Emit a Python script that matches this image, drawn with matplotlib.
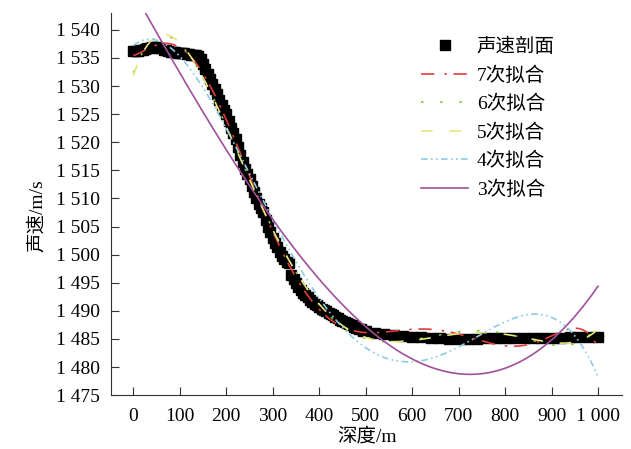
import numpy as np
from matplotlib import pyplot as plt
from numpy.polynomial import Polynomial

"""
Sound speed profile vs depth, with 3rd..7th order polynomial fits
"""

plt.rcParams['font.family'] = ['Liberation Serif', 'Noto Sans CJK SC']
plt.rcParams['axes.unicode_minus'] = False

depth = [0, 5, 10, 15, 20, 25, 30, 35, 40, 45, 50, 55, 60, 65, 70, 75, 80, 85, 90, 95,
         100, 105, 110, 115, 120, 125, 130, 135, 140, 145, 150, 155, 160, 165, 170, 175,
         180, 185, 190, 195, 200, 205, 210, 215, 220, 225, 230, 235, 240, 245, 250, 255,
         260, 265, 270, 275, 280, 285, 290, 295, 300, 305, 310, 315, 320, 325, 330, 335,
         340, 345, 350, 355, 360, 365, 370, 375, 380, 385, 390, 395, 400, 405, 410, 415,
         420, 425, 430, 435, 440, 445, 450, 455, 460, 465, 470, 475, 480, 485, 490, 495,
         500, 520, 540, 560, 580, 600, 620, 640, 660, 680, 700, 720, 740, 760, 780,
         800, 820, 840, 860, 880, 900, 920, 940, 960, 980, 1000]
speed = [1536.2, 1536.2, 1536.3, 1536.4, 1536.5, 1536.6, 1536.7, 1536.8, 1537.0, 1537.0,
         1536.9, 1536.8, 1536.7, 1536.5, 1536.4, 1536.2, 1536.1, 1536.0, 1536.0, 1535.9,
         1535.9, 1535.8, 1535.8, 1535.7, 1535.7, 1535.6, 1535.6, 1535.5, 1535.3, 1534.8,
         1534.0, 1533.1, 1532.2, 1531.2, 1530.3, 1529.4, 1528.6, 1527.5, 1526.6, 1525.8,
         1525.0, 1523.8, 1522.6, 1521.6, 1520.5, 1519.1, 1517.8, 1516.5, 1515.3, 1514.4,
         1513.4, 1512.3, 1511.2, 1510.1, 1509.0, 1508.3, 1507.5, 1506.2, 1505.0, 1504.0,
         1503.0, 1502.1, 1501.3, 1500.5, 1499.8, 1499.2, 1498.7, 1498.5, 1496.4, 1495.7,
         1495.0, 1494.3, 1493.7, 1493.2, 1492.8, 1492.4, 1492.0, 1491.6, 1491.3, 1491.0,
         1490.7, 1490.4, 1490.2, 1489.9, 1489.7, 1489.4, 1489.2, 1488.9, 1488.7, 1488.4,
         1488.2, 1488.0, 1487.8, 1487.6, 1487.4, 1487.2, 1487.0, 1486.8, 1486.7, 1486.5,
         1486.4, 1486.1, 1485.9, 1485.7, 1485.6, 1485.4, 1485.3, 1485.2, 1485.1, 1485.0,
         1485.0, 1484.9, 1485.0, 1485.1, 1485.1, 1485.1, 1485.1, 1485.2, 1485.2, 1485.1,
         1485.1, 1485.2, 1485.3, 1485.3, 1485.4, 1485.4]

orders = [7, 6, 5, 4, 3]
labels = ['7次拟合', '6次拟合', '5次拟合', '4次拟合', '3次拟合']
colors = ['#E03C3C', '#7DC243', '#E6E67A', '#8DCBE3', '#A0509B']
dashes = [(8, 6, 1.5, 4), (1.5, 10), (7, 10), (4, 2, 1, 2, 1, 2), None]

fig = plt.figure(figsize=(6.31, 4.49), dpi=100)
ax = fig.add_axes([0.176, 0.12, 0.81, 0.851])

ax.plot(depth, speed, 's', color='black', markersize=7, label='声速剖面')

xs = np.linspace(0, 1000, 600)
for n, lab, c, d in zip(orders, labels, colors, dashes):
    p = Polynomial.fit(depth, speed, n)
    if d is None:
        ax.plot(xs, p(xs), color=c, linewidth=1.2, label=lab)
    else:
        ax.plot(xs, p(xs), color=c, linewidth=1.2, dashes=d, label=lab)

ax.set_xlim(-48, 1052)
ax.set_ylim(1475, 1543)
ax.set_xticks(range(0, 1001, 100))
ax.set_xticklabels(['0', '100', '200', '300', '400', '500', '600', '700', '800', '900', '1 000'])
yt = list(range(1475, 1541, 5))
ax.set_yticks(yt)
ax.set_yticklabels(['1 %d' % (v - 1000) for v in yt])
ax.tick_params(direction='in', length=6, labelsize=14, color='#333333', pad=8)
ax.tick_params(axis='x', pad=9)
for s in ['top', 'right']:
    ax.spines[s].set_visible(False)
for s in ['left', 'bottom']:
    ax.spines[s].set_color('#333333')

ax.set_xlabel('深度/m', fontsize=14, labelpad=2)
ax.set_ylabel('声速/m/s', fontsize=14)
ax.yaxis.set_label_coords(-0.127, 0.47)

ax.legend(loc='upper left', bbox_to_anchor=(0.64, 0.955), bbox_transform=fig.transFigure,
          frameon=False, fontsize=14, handlelength=2.4, handletextpad=0.45, labelspacing=0.52)

plt.savefig('out.png')
